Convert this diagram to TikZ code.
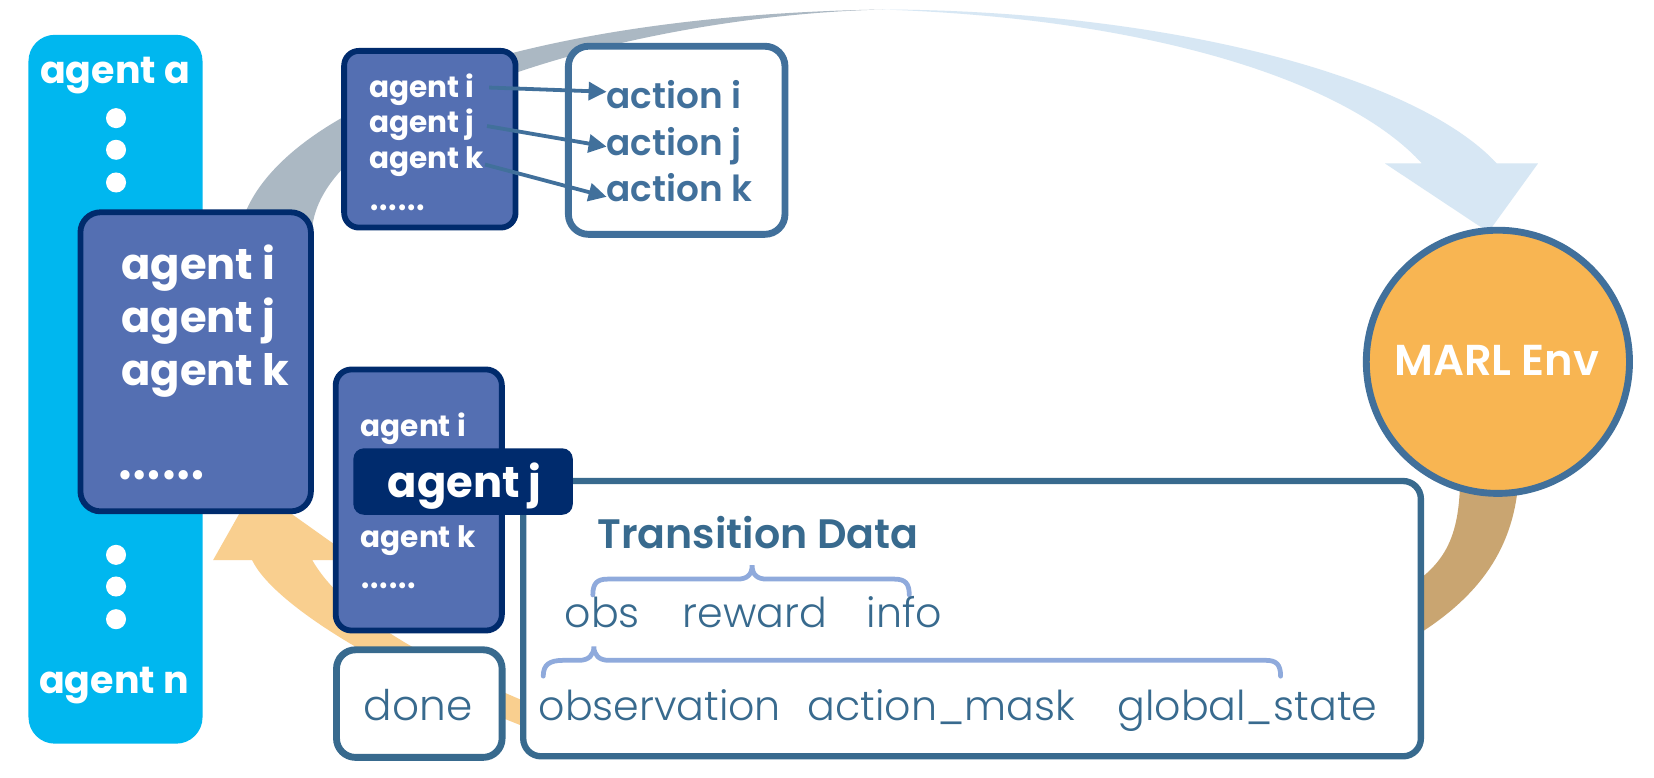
\documentclass[tikz,border=0pt]{standalone}
\usepackage{fontspec}
\setmainfont{Poppins}
\IfFontExistsTF{Poppins SemiBold}{\newfontfamily\fsemi{Poppins SemiBold}}{\newcommand\fsemi{\bfseries}}
\IfFontExistsTF{Poppins Light}{\newfontfamily\flight{Poppins Light}}{\newcommand\flight{\normalfont}}
\usetikzlibrary{arrows.meta}
\definecolor{cyanbox}{HTML}{00B7EF}
\definecolor{agentfill}{HTML}{546FB2}
\definecolor{navy}{HTML}{002B6D}
\definecolor{steel}{HTML}{41709B}
\definecolor{steeldk}{HTML}{386A8E}
\definecolor{envfill}{HTML}{F8B552}
\definecolor{bracec}{HTML}{8FAADC}
\definecolor{greyarrow}{HTML}{ABB8C3}
\definecolor{bluearrow}{HTML}{D7E7F4}
\definecolor{orangearrow}{HTML}{F9CF8F}
\definecolor{tanarrow}{HTML}{C9A571}
\begin{document}
\begin{tikzpicture}[x=1pt,y=-1pt,
  txt/.style={inner sep=0pt,outer sep=0pt},
  wtxt/.style={txt,text=white},
  bigag/.style={wtxt,anchor=base west,font=\fontsize{41}{45}\selectfont\bfseries},
  smag/.style={wtxt,anchor=base west,font=\fontsize{28}{32}\selectfont\bfseries},
  dots/.style={wtxt,anchor=base west},
  acttxt/.style={txt,anchor=base west,text=steel,font=\fontsize{34}{38}\selectfont\fsemi},
  lighttxt/.style={txt,anchor=base,text=steeldk,font=\fontsize{39}{42}\selectfont\flight},
  agbox/.style={draw=navy,fill=agentfill,line width=5.5pt,rounded corners=15pt,inner sep=0pt},
  whbox/.style={fill=white,line width=6.5pt,rounded corners=19pt,inner sep=0pt},
  arr/.style={draw=steel,line width=3.6pt,-{Triangle[length=17pt,width=17pt]}},
  brace/.style={draw=bracec,line width=4.5pt,line cap=round}
]
\useasboundingbox[fill=white] (0,0) rectangle (1568,737.5);

% top curved arrow (grey part and light blue part)
\fill[greyarrow] (228,215) .. controls (255,110) and (470,15) .. (837,9)
  .. controls (600,15) and (310,100) .. (296,215) -- cycle;
\fill[bluearrow] (837,9) .. controls (1100,10) and (1340,70) .. (1419,155)
  -- (1458,155) -- (1411,220) -- (1313,155) -- (1348,155)
  .. controls (1280,80) and (1100,18) .. (837,9) -- cycle;

% bottom return arrow
\fill[tanarrow] (1440,440) .. controls (1440,520) and (1400,570) .. (1330,610)
  -- (1330,560) .. controls (1370,535) and (1386,510) .. (1384,440) -- cycle;
\fill[orangearrow] (560,690) .. controls (430,640) and (330,590) .. (296,531)
  -- (338,531) -- (241,462) -- (202,531) -- (239,531)
  .. controls (260,575) and (380,650) .. (560,712) -- cycle;

% agent column
\node[fill=cyanbox,rounded corners=25pt,minimum width=165pt,minimum height=672pt,inner sep=0pt] (col) at (109.5,369) {};
\node[wtxt,anchor=base,font=\fontsize{36}{40}\selectfont\bfseries] (ta) at (109,79) {agent a};
\node[wtxt,anchor=base,font=\fontsize{36}{40}\selectfont\bfseries] (tn) at (108,657) {agent n};
\foreach \yy [count=\i] in {112,142,173,526,556,587}
  \fill[white] (110,\yy) circle (9.5pt);

% big agent box
\node[agbox,rounded corners=19pt,minimum width=218.5pt,minimum height=283.5pt] (big) at (185.5,343) {};
\node[bigag] (bi) at (115,265) {agent i};
\node[bigag] (bj) at (115,315) {agent j};
\node[bigag] (bk) at (115,365) {agent k};
\node[dots,font=\fontsize{72}{76}\selectfont] (bd) at (111,455) {……};

% top small agent box
\node[agbox,rounded corners=14pt,minimum width=162.5pt,minimum height=167.5pt] (small) at (407.5,132) {};
\node[smag] (ai) at (350,92) {agent i};
\node[smag] (aj) at (350,126) {agent j};
\node[smag] (ak) at (350,160) {agent k};
\node[dots,font=\fontsize{46}{50}\selectfont] (ad) at (350,200) {……};

% action box
\node[whbox,draw=steel,minimum width=205.3pt,minimum height=178.3pt] (act) at (641.5,133) {};
\node[acttxt] (acti) at (575,102.6) {action i};
\node[acttxt] (actj) at (575,147) {action j};
\node[acttxt] (actk) at (575,190.6) {action k};
\draw[arr] ([xshift=14pt,yshift=9pt]ai.base east) -- ([yshift=15.6pt]acti.base west);
\draw[arr] ([xshift=12pt,yshift=6.5pt]aj.base east) -- ([yshift=8pt]actj.base west);
\draw[arr] ([xshift=1pt,yshift=4pt]ak.base east) -- ([yshift=4pt]actk.base west);

% environment
\node[circle,draw=steel,fill=envfill,line width=6.5pt,minimum size=249.5pt,inner sep=0pt] (env) at (1420,343) {};
\node[wtxt,anchor=base,font=\fontsize{41}{45}\selectfont\fsemi] (envt) at (1419,356) {MARL Env};

% transition data box
\node[whbox,draw=steeldk,line width=6pt,rounded corners=17pt,minimum width=851pt,minimum height=261pt] (trans) at (921.5,586.5) {};
\node[txt,anchor=base,text=steeldk,font=\fontsize{39}{42}\selectfont\fsemi] (tt) at (718.5,520) {Transition Data};
\draw[brace] (562,564) .. controls (562,553) and (566,549) .. (576,549) -- (699,549)
  .. controls (708,549) and (713,545) .. (713,536) .. controls (713,545) and (718,549) .. (727,549)
  -- (848,549) .. controls (858,549) and (862,553) .. (862,564);
\node[lighttxt] (obs) at (571,595) {obs};
\node[lighttxt] (rew) at (715.5,595) {reward};
\node[lighttxt] (info) at (857.5,595) {info};
\draw[brace] (515,641) .. controls (515,630) and (521,626) .. (534,626) -- (549,626)
  .. controls (558,626) and (563,621) .. (563,613) .. controls (563,621) and (568,626) .. (577,626)
  -- (1200,626) .. controls (1210,626) and (1214,630) .. (1214,641);
\node[lighttxt] (obsv) at (625.5,683) {observation};
\node[lighttxt] (mask) at (892.5,683) {action\_mask};
\node[lighttxt] (gst) at (1182.5,683) {global\_state};

% middle agent box
\node[agbox,minimum width=157.5pt,minimum height=247.5pt] (mid) at (397,474) {};
\node[smag] (mi) at (342,414) {agent i};
\node[smag] (mk) at (342,519) {agent k};
\node[dots,font=\fontsize{46}{50}\selectfont] (md) at (342,558) {……};
\node[fill=navy,rounded corners=10pt,minimum width=208pt,minimum height=63pt,inner sep=0pt] (jbox) at (439,456.5) {};
\node[wtxt,anchor=base,font=\fontsize{41}{45}\selectfont\bfseries] (jt) at (440.5,472) {agent j};

% done box
\node[whbox,draw=steeldk,rounded corners=18pt,minimum width=157pt,minimum height=102pt] (done) at (397.5,667) {};
\node[lighttxt,font=\fontsize{40}{44}\selectfont\flight] (donet) at (396.5,683) {done};
\end{tikzpicture}
\end{document}
